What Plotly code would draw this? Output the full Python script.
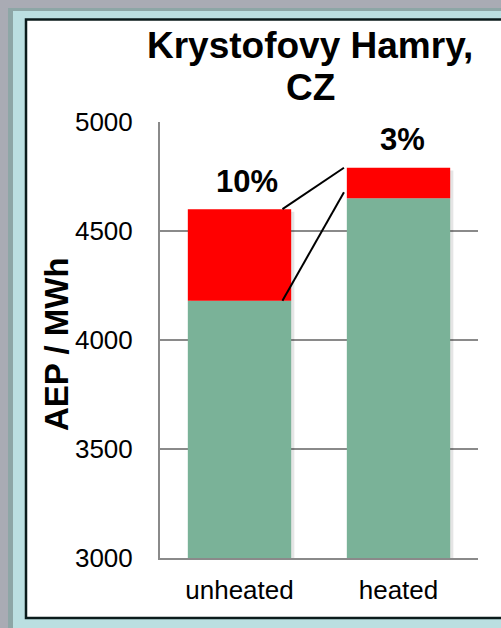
import plotly.graph_objects as go

# Annual energy production per configuration
sites = ["unheated", "heated"]
aep_base = [4180, 4650]      # production without icing losses
aep_loss = [420, 140]        # production lost to icing
y_ticks = [3000, 3500, 4000, 4500, 5000]
title_lines = ["Krystofovy Hamry,", "CZ"]
y_title = "AEP / MWh"

GREEN = "#7AB298"
RED = "#FF0000"
GRID = "#8A8A8A"
FONT = "Arial, Liberation Sans, sans-serif"

W, H = 501, 628
L, R, T, B = 160, 23, 122, 70
BAR_W = 0.65


def xp(px):
    return (px - L) / (W - L - R)


def yp(py):
    return (H - B - py) / (H - T - B)


totals = [b + l for b, l in zip(aep_base, aep_loss)]
pct = [f"{round(l / b * 100)}%" for b, l in zip(aep_base, aep_loss)]

fig = go.Figure()
# soft drop shadow behind each stacked bar
fig.add_bar(x=sites, y=[t - 3000 for t in totals], base=3000 - 12, width=BAR_W,
            offset=-BAR_W / 2 + 0.02, marker=dict(color="rgba(0,0,0,0.10)", line=dict(width=0)),
            hoverinfo="skip")
fig.add_bar(x=sites, y=aep_base, base=0, width=BAR_W, offset=-BAR_W / 2,
            marker=dict(color=GREEN, line=dict(width=0)), hoverinfo="skip")
fig.add_bar(x=sites, y=aep_loss, base=aep_base, width=BAR_W, offset=-BAR_W / 2,
            marker=dict(color=RED, line=dict(width=0)), hoverinfo="skip")

shapes = [
    # slide backdrop strips
    dict(type="rect", xref="paper", yref="paper", x0=xp(0), x1=xp(8), y0=yp(H), y1=yp(0),
         fillcolor="#A9ABB4", line=dict(width=0), layer="below"),
    dict(type="rect", xref="paper", yref="paper", x0=xp(0), x1=xp(W), y0=yp(8), y1=yp(0),
         fillcolor="#A9ABB4", line=dict(width=0), layer="below"),
    dict(type="rect", xref="paper", yref="paper", x0=xp(8), x1=xp(13), y0=yp(H), y1=yp(8),
         fillcolor="#8DA6A6", line=dict(width=0), layer="below"),
    dict(type="rect", xref="paper", yref="paper", x0=xp(8), x1=xp(W), y0=yp(11), y1=yp(8),
         fillcolor="#8DA6A6", line=dict(width=0), layer="below"),
    # white chart panel
    dict(type="rect", xref="paper", yref="paper", x0=xp(26), x1=xp(W + 6), y0=yp(618), y1=yp(19.5),
         fillcolor="white", line=dict(color="#0B1B1B", width=2.5), layer="below"),
    # connectors between the two bars
    dict(type="line", xref="x", yref="y", x0=0.27, x1=0.657, y0=totals[0], y1=totals[1],
         line=dict(color="black", width=2)),
    dict(type="line", xref="x", yref="y", x0=0.27, x1=0.657,
         y0=aep_base[0], y1=aep_base[1] + 0.2 * aep_loss[1],
         line=dict(color="black", width=2)),
]

annotations = [
    dict(text=title_lines[0], xref="paper", yref="paper", x=xp(310), y=yp(46),
         xanchor="center", yanchor="middle", showarrow=False,
         font=dict(family=FONT, size=37, color="black", weight="bold")),
    dict(text=title_lines[1], xref="paper", yref="paper", x=xp(310), y=yp(87),
         xanchor="center", yanchor="middle", showarrow=False,
         font=dict(family=FONT, size=37, color="black", weight="bold")),
    dict(text=y_title, xref="paper", yref="paper", x=xp(56), y=yp(344),
         xanchor="center", yanchor="middle", textangle=-90, showarrow=False,
         font=dict(family=FONT, size=33, color="black", weight="bold")),
]
for i, (s, t, p) in enumerate(zip(sites, totals, pct)):
    annotations.append(dict(text=p, x=i + (0.047 if i == 0 else 0.024), y=t, xref="x", yref="y",
                            yshift=28, xanchor="center", yanchor="middle", showarrow=False,
                            font=dict(family=FONT, size=31, color="black", weight="bold")))

fig.update_layout(
    width=W, height=H,
    margin=dict(l=L, r=R, t=T, b=B, pad=0),
    paper_bgcolor="#BBDFE1",
    plot_bgcolor="white",
    barmode="overlay",
    showlegend=False,
    shapes=shapes,
    annotations=annotations,
    font=dict(family=FONT, size=26, color="black"),
)
fig.update_xaxes(showline=True, linecolor=GRID, linewidth=2, showgrid=False,
                 ticks="", ticklabelstandoff=8, tickfont=dict(size=26, color="black"))
fig.update_yaxes(range=[3000, 5000], tickvals=y_ticks, showline=True, linecolor=GRID,
                 linewidth=2, showgrid=True, gridcolor=GRID, gridwidth=2, zeroline=False,
                 ticks="", ticklabelstandoff=20, tickfont=dict(size=26, color="black"))

fig.write_html("out.html")
